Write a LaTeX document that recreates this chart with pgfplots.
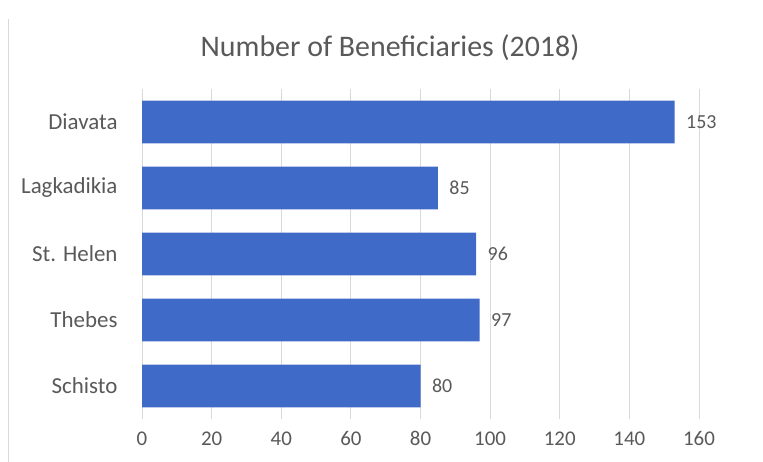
\documentclass[border=0pt]{standalone}
\usepackage{pgfplots}
\pgfplotsset{compat=1.18}
\usepackage{fontspec}
\setmainfont{Carlito}
\definecolor{barblue}{RGB}{64,106,200}
\definecolor{txtgray}{RGB}{89,89,89}
\definecolor{gridgray}{RGB}{217,217,217}
\begin{document}
\begin{tikzpicture}[x=1bp,y=1bp]
  \useasboundingbox (0,0) rectangle (763,462);
  % left edge of the chart frame
  \draw[gridgray, line width=1bp] (8,0) -- (8,443);
  \node[txtgray, font=\fontsize{30}{34}\selectfont] at (390,414) {Number of Beneficiaries (2018)};
  \begin{axis}[
      at={(142bp,43bp)}, anchor=south west,
      x=3.48125bp, y=66bp,
      xmin=0, xmax=160, ymin=-0.5, ymax=4.5,
      enlargelimits=false,
      xbar, bar width=0.65,
      axis line style={draw=none},
      major tick length=0pt,
      xmajorgrids, grid style={gridgray, line width=1bp},
      xtick={0,20,...,160},
      ytick={0,...,4},
      yticklabels={Schisto,Thebes,St. Helen,Lagkadikia,Diavata},
      /pgf/number format/assume math mode=true,
      tick label style={font=\fontsize{21}{23}\selectfont, text=txtgray},
      yticklabel style={font=\fontsize{23}{25}\selectfont, xshift=-21bp},
      xticklabel style={yshift=-9bp},
      nodes near coords,
      nodes near coords style={font=\fontsize{20}{22}\selectfont, text=txtgray, anchor=west, xshift=8bp},
      clip=false,
    ]
    \addplot[fill=barblue, draw=none] coordinates {(80,0) (97,1) (96,2) (85,3) (153,4)};
  \end{axis}
\end{tikzpicture}
\end{document}
